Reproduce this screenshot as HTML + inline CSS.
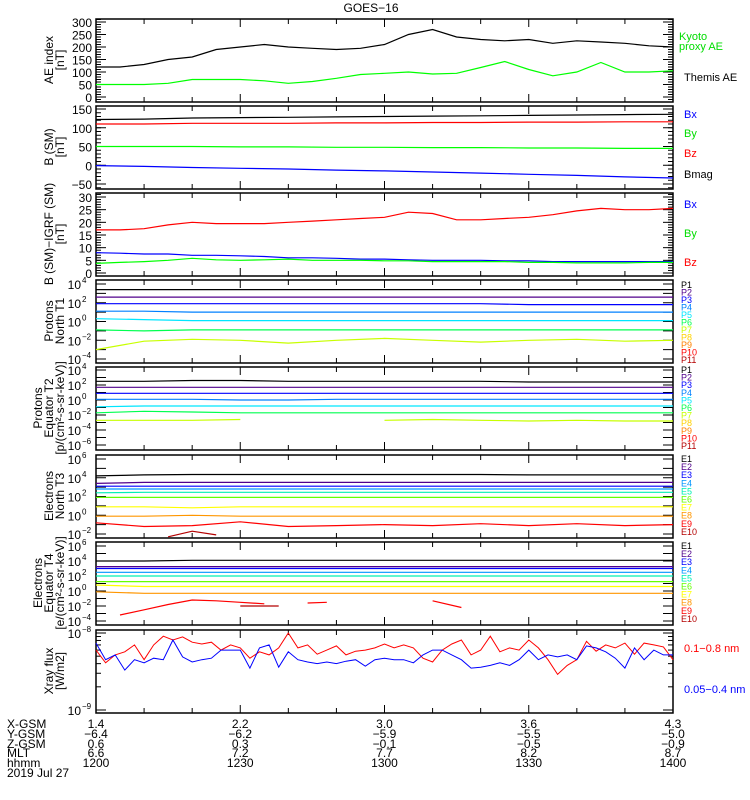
<!DOCTYPE html>
<html><head><meta charset="utf-8"><style>
html,body{margin:0;padding:0;background:#fff;}
svg{display:block;font-family:"Liberation Sans",sans-serif;}
</style></head><body>
<svg id="chart" width="750" height="800" viewBox="0 0 750 800"></svg>
<script>
// ---- data ----
const timeTicks = [0,30,60,90,120];
const xgsm = ["1.4","2.2","3.0","3.6","4.3"];
const ygsm = ["\u22126.4","\u22126.2","\u22125.9","\u22125.5","\u22125.0"];
const zgsm = ["0.6","0.3","\u22120.1","\u22120.5","\u22120.9"];
const mlt = ["6.6","7.2","7.7","8.2","8.7"];
const hhmm = ["1200","1230","1300","1330","1400"];
// panel 1 AE (every 5 min)
const aeKyoto = [120,120,130,150,160,190,200,210,200,195,190,195,210,250,270,240,230,225,230,215,225,220,215,205,200];
const aeThemis = [50,50,50,55,70,70,70,65,55,62,75,90,95,100,92,95,118,142,110,85,100,138,100,100,105];
// panel 2 B (SM) (every 10 min)
const bmag = [122,123,126,127,128,129,130,131,132,133,134,135,136];
const bzSM = [110,110,112,112,112,113,113,114,114,115,115,116,116];
const bySM = [50,50,50,49,49,48,48,47,47,46,46,45,45];
const bxSM = [-1,-3,-6,-8,-10,-13,-15,-18,-21,-24,-27,-31,-34];
// panel 3 B - IGRF (every 5 min)
const dBz = [17,17,17.5,19,20,19.5,19.5,19.5,20,20.5,21,21.5,22,24,23.5,21,21,21.5,22,23,24.5,25.5,25,25,25.5];
const dBx = [8,7.8,7.5,7.5,7,7,6.8,6.5,6,6,5.8,5.5,5.5,5.2,5,5,5,4.8,4.8,4.5,4.5,4.5,4.5,4.5,4.5];
const dBy = [3.8,4.2,4.5,5,5.8,5.2,5,5.2,5.5,5,5,5,4.8,4.8,4.5,4.5,4.5,4.5,4.2,4.2,4,4,4,4.2,4.2];
// panel 4 protons north T1 (log10, every 10 min)
const pN1 = [3.4,3.4,3.4,3.4,3.4,3.4,3.4,3.4,3.4,3.4,3.4,3.4,3.4];
const pN2 = [2.6,2.6,2.6,2.6,2.6,2.6,2.6,2.6,2.6,2.6,2.6,2.6,2.6];
const pN3 = [1.9,1.9,1.9,1.9,1.9,1.9,1.9,1.9,1.9,1.8,1.8,1.8,1.8];
const pN4 = [1.1,1.1,1.0,1.0,1.0,1.0,1.0,1.0,1.0,1.0,1.0,1.0,1.0];
const pN5 = [0.3,0.2,0.1,0.1,0.1,0.1,0.1,0.1,0.1,0.1,0.1,0.1,0.1];
const pN6 = [-0.9,-1.0,-0.9,-0.9,-0.9,-0.9,-0.9,-0.9,-0.9,-0.9,-0.9,-0.9,-0.9];
const pN7 = [-3.0,-2.1,-1.9,-2.0,-2.3,-2.0,-1.8,-2.0,-2.2,-2.0,-1.9,-2.1,-2.0];
// panel 5 protons equator T2
const pE1 = [2.5,2.5,2.6,2.6,2.5,2.5,2.5,2.5,2.5,2.4,2.4,2.4,2.4];
const pE2 = [1.7,1.7,1.7,1.7,1.7,1.7,1.7,1.7,1.7,1.7,1.7,1.7,1.7];
const pE3 = [0.9,0.9,0.9,0.9,0.9,0.9,0.9,0.9,0.9,0.9,0.9,0.9,0.9];
const pE4 = [0.1,0.1,0.1,0.0,0.0,0.1,0.1,0.1,0.1,0.1,0.1,0.1,0.1];
const pE5 = [-0.9,-0.8,-0.8,-0.8,-0.8,-0.8,-0.8,-0.8,-0.8,-0.8,-0.8,-0.8,-0.8];
const pE6 = [-1.7,-1.5,-1.6,-1.7,-1.7,-1.7,-1.7,-1.7,-1.7,-1.7,-1.7,-1.7,-1.7];
const pE7 = [-2.7,-2.7,-2.7,-2.6,null,null,-2.7,-2.6,-2.7,-2.8,-2.7,-2.8,-2.8];
// panel 6 electrons north T3
const eN1 = [4.2,4.3,4.35,4.35,4.35,4.35,4.35,4.35,4.35,4.3,4.3,4.3,4.3];
const eN2 = [3.4,3.5,3.5,3.5,3.5,3.5,3.5,3.5,3.5,3.5,3.5,3.5,3.5];
const eN3 = [3.1,3.1,3.1,3.1,3.1,3.1,3.1,3.1,3.1,3.1,3.1,3.1,3.1];
const eN4 = [2.8,2.8,2.8,2.8,2.8,2.8,2.8,2.8,2.8,2.8,2.8,2.8,2.8];
const eN5 = [2.4,2.45,2.45,2.45,2.45,2.45,2.45,2.45,2.45,2.45,2.45,2.45,2.45];
const eN6 = [1.9,1.9,1.9,1.9,1.9,1.9,1.9,1.9,1.9,1.9,1.9,1.9,1.9];
const eN7 = [0.9,0.9,0.8,0.9,0.9,0.9,0.9,0.9,0.9,0.9,0.9,0.9,0.9];
const eN8 = [-0.1,-0.1,0.0,-0.1,-0.1,-0.1,-0.1,-0.1,-0.1,-0.1,-0.1,-0.1,-0.1];
const eN9 = [-0.8,-1.2,-1.1,-0.7,-1.2,-1.1,-1.0,-1.1,-0.9,-1.1,-0.9,-1.1,-1.0];
const eN10T = [15,20,25];
const eN10 = [-2.3,-1.7,-2.1];
// panel 7 electrons equator T4
const eE1 = [4.0,4.0,4.1,4.1,4.1,4.1,4.1,4.1,4.1,4.1,4.1,4.1,4.1];
const eE2 = [3.25,3.25,3.25,3.25,3.25,3.25,3.25,3.25,3.25,3.25,3.25,3.25,3.25];
const eE3 = [3.0,3.0,3.0,3.0,3.0,3.0,3.0,3.0,3.0,3.0,3.0,3.0,3.0];
const eE4 = [2.5,2.5,2.5,2.5,2.5,2.5,2.5,2.5,2.5,2.5,2.5,2.5,2.5];
const eE5 = [2.0,2.0,2.0,2.0,2.0,2.0,2.0,2.0,2.0,2.0,2.0,2.0,2.0];
const eE6 = [1.25,1.25,1.25,1.25,1.25,1.25,1.25,1.25,1.25,1.25,1.25,1.25,1.25];
const eE7 = [0.8,0.6,0.6,0.6,0.6,0.6,0.6,0.6,0.6,0.6,0.6,0.6,0.6];
const eE8 = [-0.1,-0.3,-0.3,-0.3,-0.3,-0.3,-0.3,-0.3,-0.3,-0.3,-0.3,-0.3,-0.3];
const eE9T = [5,10,15,20,25,30,35];
const eE9 = [-3.2,-2.5,-1.8,-1.2,-1.3,-1.5,-1.7];
const eE9bT = [44,48];
const eE9b = [-1.6,-1.5];
const eE9cT = [70,76];
const eE9c = [-1.3,-2.2];
const eE10T = [30,38];
const eE10 = [-2.0,-2.0];
// panel 8 xray (units 1e-9 W/m2, every 2 min)
const xrayLong = [6.0,4.1,5.2,5.7,7.0,4.5,7.0,9.1,8.1,8.9,7.6,7.2,7.6,6.0,7.0,6.4,4.7,5.7,5.2,6.4,10,6.4,7.0,5.3,6.0,6.8,5.2,5.8,6.0,6.4,7.2,6.4,7.0,6.4,4.7,4.2,6.0,7.2,8.1,5.2,6.0,9.1,5.7,6.4,6.0,8.1,6.4,4.5,2.9,3.8,4.5,7.8,5.8,7.0,6.4,7.4,5.3,7.4,7.0,6.6,4.5];
const xrayShort = [7.4,4.5,5.2,3.3,4.5,4.1,4.7,4.5,8.1,4.9,4.2,4.5,4.7,6.0,6.0,6.0,3.5,6.4,7.0,3.6,5.7,4.5,4.2,4.0,4.2,4.0,4.3,4.5,3.7,4.5,4.7,4.5,4.5,4.1,5.2,6.0,6.0,5.2,4.5,3.5,3.6,3.8,4.1,3.8,4.5,6.0,4.5,5.2,4.9,5.2,4.5,6.8,6.4,5.7,4.7,3.5,6.4,4.5,6.0,5.2,5.2];

// ---- drawing ----
const NS = "http://www.w3.org/2000/svg";
const svg = document.getElementById('chart');
const X0 = 96, X1 = 673;
function xOf(t){ return X0 + t*(X1-X0)/120; }
function mk(tag, attrs, parent){ const e=document.createElementNS(NS,tag); for(const k in attrs) e.setAttribute(k,attrs[k]); (parent||svg).appendChild(e); return e; }
function txt(s, x, y, size, color, anchor, parent){ const e=mk('text',{x:x,y:y,'font-size':size,fill:color,'text-anchor':anchor||'start'},parent); e.textContent=s; return e; }
function linMap(v1,y1,v2,y2){ return v => y1 + (v-v1)*(y2-y1)/(v2-v1); }
function series(g, times, vals, yf, color, name, width){
  let d='', pen=false;
  for(let i=0;i<vals.length;i++){
    if(vals[i]===null){ pen=false; continue; }
    d += (pen?'L':'M') + xOf(times[i]).toFixed(1) + ' ' + yf(vals[i]).toFixed(1) + ' ';
    pen=true;
  }
  const p = mk('path',{d:d,fill:'none',stroke:color,'stroke-width':width||1.2},g);
  
  
}
function tArr(n, step){ const a=[]; for(let i=0;i<n;i++) a.push(i*step); return a; }
const T13 = tArr(13,10), T25 = tArr(25,5), T61 = tArr(61,2);

function panel(name, top, yf, majors, minors, labelFn, titleLines){
  const bot = top+83;
  const g = mk('g',{});
  
  
  mk('rect',{x:X0,y:top,width:X1-X0,height:83,fill:'none',stroke:'#000','stroke-width':1.5},g);
  for(let t=0;t<=120;t+=10){
    const L = (t%30===0)?8:5, x=xOf(t);
    mk('line',{x1:x,y1:bot,x2:x,y2:bot-L,stroke:'#000','stroke-width':1},g);
    mk('line',{x1:x,y1:top,x2:x,y2:top+L,stroke:'#000','stroke-width':1},g);
  }
  minors.forEach(v=>{ const y=yf(v); if(y<top||y>bot) return;
    mk('line',{x1:X0,y1:y,x2:X0+5,y2:y,stroke:'#000','stroke-width':1},g);
    mk('line',{x1:X1,y1:y,x2:X1-5,y2:y,stroke:'#000','stroke-width':1},g);});
  majors.forEach(v=>{ const y=yf(v);
    mk('line',{x1:X0,y1:y,x2:X0+10,y2:y,stroke:'#000','stroke-width':1},g);
    mk('line',{x1:X1,y1:y,x2:X1-10,y2:y,stroke:'#000','stroke-width':1},g);
    labelFn(g, v, y);});
  const tg = mk('g',{transform:'translate(0,'+(top+41)+') rotate(-90)'},g);
  
  
  titleLines.forEach((ln,i)=>{ txt(ln, 0, 0, 12, '#000', 'middle', tg).setAttribute('y', 64 - (titleLines.length-1-i)*11); });
  return g;
}
function linLabel(g,v,y){ txt(String(v).replace('-','\u2212'), 92, y+5, 12, '#000','end',g); }
function range(a,b,s){ const r=[]; for(let v=a; v<=b+1e-9; v+=s) r.push(+v.toFixed(4)); return r; }
function logLabel(show){ return (g,v,y)=>{ if(!show.includes(v)) return;
  txt('10',81,y+5,12,'#000','end',g);
  txt(String(v).replace('-','\u2212'),82,y-1,8,'#000','start',g); }; }

// title
const title = txt('GOES\u221216', 371, 12, 12, '#000', 'middle');



// Panel 1
const y1 = linMap(0,97,300,22);
const g1 = panel('ae-index-panel',19,y1,range(0,300,50),range(-10,310,10),linLabel,['AE index','[nT]']);
series(g1,T25,aeKyoto,y1,'#000','ae-kyoto-line');
series(g1,T25,aeThemis,y1,'#00ff00','ae-themis-line');
txt('Kyoto',679,40,11,'#00dd00','start',g1);
txt('proxy AE',679,50,11,'#00dd00','start',g1);
txt('Themis AE',684,81,11,'#000','start',g1);

// Panel 2
const y2 = linMap(150,109,-50,184);
const g2 = panel('b-sm-panel',106,y2,range(-50,150,50),range(-60,160,10),linLabel,['B (SM)','[nT]']);
series(g2,T13,bmag,y2,'#000','bmag-line');
series(g2,T13,bzSM,y2,'#ff0000','bz-line');
series(g2,T13,bySM,y2,'#00ff00','by-line');
series(g2,T13,bxSM,y2,'#0000ff','bx-line');
[['Bx','#0000ff',118],['By','#00dd00',137],['Bz','#ff0000',157],['Bmag','#000',178]].forEach(l=>txt(l[0],684,l[2],11,l[1],'start',g2));

// Panel 3
const y3 = linMap(30,197,0,273);
const g3 = panel('b-minus-igrf-panel',193,y3,range(0,30,5),range(0,31,1),linLabel,['B (SM)\u2212IGRF (SM)','[nT]']);
series(g3,T25,dBz,y3,'#ff0000','dbz-line');
series(g3,T25,dBx,y3,'#0000ff','dbx-line');
series(g3,T25,dBy,y3,'#00ff00','dby-line');
[['Bx','#0000ff',208],['By','#00dd00',237],['Bz','#ff0000',266]].forEach(l=>txt(l[0],684,l[2],11,l[1],'start',g3));

const pCols = ['#000','#50008c','#0000ff','#0080ff','#00e6ff','#00ff50','#c8ff00','#ffd200','#ff8000','#ff0000','#b40000'];
const eCols = ['#000','#50008c','#0000ff','#0096ff','#00f0b4','#64ff00','#ffff00','#ff9600','#ff0000','#b40000'];

// Panel 4
const y4 = linMap(4,284,-4,359);
const g4 = panel('protons-north-t1-panel',280,y4,range(-4,4,1),[],logLabel([4,2,0,-2,-4]),['Protons','North T1']);
[pN1,pN2,pN3,pN4,pN5,pN6,pN7].forEach((s,i)=>series(g4,T13,s,y4,pCols[i],'proton-t1-p'+(i+1)));
for(let i=0;i<11;i++) txt('P'+(i+1),681,288+i*7.5,9,pCols[i],'start',g4);

// Panel 5
const y5 = linMap(4,370,-6,445);
const g5 = panel('protons-equator-t2-panel',367,y5,range(-6,4,1),[],logLabel([4,2,0,-2,-4,-6]),['Protons','Equator T2','[p/(cm\u00b2-s-sr-keV)]']);
[pE1,pE2,pE3,pE4,pE5,pE6,pE7].forEach((s,i)=>series(g5,T13,s,y5,pCols[i],'proton-t2-p'+(i+1)));
for(let i=0;i<11;i++) txt('P'+(i+1),681,373+i*7.6,9,pCols[i],'start',g5);

// Panel 6
const y6 = linMap(6,459,-2,534);
const g6 = panel('electrons-north-t3-panel',455,y6,range(-2,6,1),[],logLabel([6,4,2,0,-2]),['Electrons','North T3']);
[eN1,eN2,eN3,eN4,eN5,eN6,eN7,eN8,eN9].forEach((s,i)=>series(g6,T13,s,y6,eCols[i],'electron-t3-e'+(i+1)));
series(g6,eN10T,eN10,y6,eCols[9],'electron-t3-e10');
for(let i=0;i<10;i++) txt('E'+(i+1),681,462+i*8.1,9,eCols[i],'start',g6);

// Panel 7
const y7 = linMap(6,546,-4,621);
const g7 = panel('electrons-equator-t4-panel',542,y7,range(-4,6,1),[],logLabel([6,4,2,0,-2,-4]),['Electrons','Equator T4','[e/(cm\u00b2-s-sr-keV)]']);
[eE1,eE2,eE3,eE4,eE5,eE6,eE7,eE8].forEach((s,i)=>series(g7,T13,s,y7,eCols[i],'electron-t4-e'+(i+1)));
series(g7,eE9T,eE9,y7,eCols[8],'electron-t4-e9');
series(g7,eE9bT,eE9b,y7,eCols[8],'electron-t4-e9-b');
series(g7,eE9cT,eE9c,y7,eCols[8],'electron-t4-e9-c');
series(g7,eE10T,eE10,y7,eCols[9],'electron-t4-e10');
for(let i=0;i<10;i++) txt('E'+(i+1),681,549+i*8.1,9,eCols[i],'start',g7);

// Panel 8
const y8l = linMap(-8,633,-9,710);
const y8 = v => y8l(Math.log10(v*1e-9));
const xMinor = [2,3,4,5,6,7,8,9].map(m=>Math.log10(m)-9);
const g8 = panel('xray-flux-panel',630,y8l,[-9,-8],xMinor,logLabel([-8,-9]),['Xray flux','[W/m2]']);
series(g8,T61,xrayLong,y8,'#ff0000','xray-long-line',1);
series(g8,T61,xrayShort,y8,'#0000ff','xray-short-line',1);
txt('0.1\u22120.8 nm',684,652,11,'#ff0000','start',g8);
txt('0.05\u22120.4 nm',684,693,11,'#0000ff','start',g8);

// bottom annotation rows
const rows = [['X-GSM',xgsm,728],['Y-GSM',ygsm,738],['Z-GSM',zgsm,748],['MLT',mlt,757],['hhmm',hhmm,767]];
rows.forEach(r=>{
  const g = mk('g',{});
  
  
  txt(r[0],7,r[2],12,'#000','start',g);
  timeTicks.forEach((t,i)=>txt(r[1][i],xOf(t),r[2],12,'#000','middle',g));
});
const dt = txt('2019 Jul 27',7,777,12,'#000','start');


</script>
</body></html>
